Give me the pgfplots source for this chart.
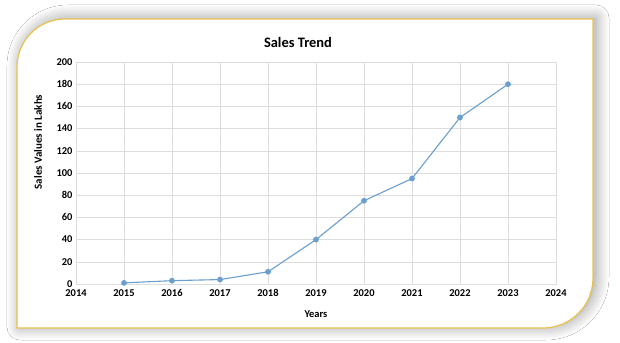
\documentclass[border=0pt]{standalone}
\usepackage{pgfplots}
\pgfplotsset{compat=1.18}
\usepackage{fontspec}
\setmainfont{Carlito}
\usetikzlibrary{shadows.blur}
\definecolor{frameY}{HTML}{E8C24E}
\definecolor{lineB}{HTML}{6A9FCF}
\definecolor{gridG}{HTML}{DDDDDD}
\begin{document}
\begin{tikzpicture}[x=1bp,y=1bp]
\path[use as bounding box] (0,0) rectangle (620,342);
\fill[white] (0,0) rectangle (620,342);
\path[fill=white, draw=frameY, line width=1.2bp,
  blur shadow={shadow xshift=3bp, shadow yshift=1bp, shadow blur radius=13bp, shadow opacity=40, shadow blur steps=12}]
  (17,14) -- (17,275) arc[start angle=180, end angle=90, radius=48] -- (593,323)
  -- (593,64) arc[start angle=0, end angle=-90, radius=50] -- cycle;
\begin{axis}[
  at={(76bp,58bp)}, anchor=south west,
  scale only axis, width=480bp, height=222bp,
  xmin=2014, xmax=2024, ymin=0, ymax=200,
  xtick={2014,...,2024}, ytick={0,20,...,200},
  grid=major, grid style={gridG, line width=0.6bp},
  axis line style={gridG, line width=0.8bp},
  tick style={draw=none},
  /pgf/number format/assume math mode=true,
  /pgf/number format/1000 sep={},
  ticklabel style={font=\bfseries\fontsize{10.5}{12}\selectfont, text=black},
  xticklabel style={yshift=-2bp},
]
\addplot[color=lineB, line width=1.1bp, mark=*, mark size=2.3bp, mark options={fill=lineB, draw=lineB}]
  coordinates {(2015,1) (2016,3) (2017,4) (2018,11) (2019,40) (2020,75) (2021,95) (2022,150) (2023,180)};
\end{axis}
\node[font=\bfseries\fontsize{14.5}{16}\selectfont] at (298,300) {Sales Trend};
\node[font=\bfseries\fontsize{10.5}{12}\selectfont] at (316,28) {Years};
\node[font=\bfseries\fontsize{11}{12}\selectfont, rotate=90] at (38,200) {Sales Values in Lakhs};
\end{tikzpicture}
\end{document}
